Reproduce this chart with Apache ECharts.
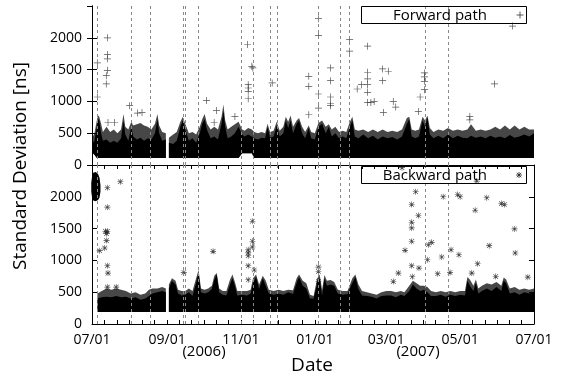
<!DOCTYPE html>
<html><head><meta charset="utf-8">
<script src="https://cdn.jsdelivr.net/npm/echarts@6/dist/echarts.min.js"></script>
<style>html,body{margin:0;padding:0;background:#fff}#c{width:562px;height:376px}</style>
</head><body><div id="c"></div>
<script>
// x values are days since 2006-07-01
const monthLabels = ['07/01','09/01','11/01','01/01','03/01','05/01','07/01'];
const monthDays = [0, 62, 123, 184, 243, 304, 365];
const yearLabels = ['(2006)', '(2007)'];
const eventDays = [4.4, 32.2, 48.5, 75.3, 76.6, 87.4, 122.9, 133.3, 146.9, 153.2, 187.1, 205.3, 212.7, 275.5, 294.6];

// Forward path: dense band (lower edge, dense core top, sparse fringe top)
const fwdDay  = [0,2,4,5,6,7.5,9,12,15,18,21,24,26,27.5,30,32.5,34,37,40,43,46,49,52,54,55.5,58,61,62,63.5,67,70,73,75,77,80,83,86,89,91,93,95,98,101,104,107,108.5,110,112,115,118,121,124,126,129,132,134,137,140,143,145,147,150,152.5,155,158,160,162,164,166,169,171,173.5,176,179,181,184,187,190,193,195.5,198,201,204,207,210,213,215,217,220,224,228,232,236,240,244,248,252,256,260,262,264,267,270,273,275,277,279,282,286,290,294,298,302,306,310,313,317,321,325,329,333,337,341,345,349,353,357,361,365];
const fwdLow  = [200,160,110,110,110,110,110,110,110,110,110,110,110,110,110,110,110,110,110,110,110,110,110,110,110,110,110,null,110,110,110,110,110,110,110,110,110,110,110,110,110,110,110,110,110,110,110,110,110,110,110,185,185,185,185,110,110,110,110,110,110,110,110,110,110,110,110,110,110,110,110,110,110,110,110,110,110,110,110,110,110,110,110,110,110,110,110,110,110,110,110,110,110,110,110,110,110,110,110,110,110,110,110,110,110,110,110,110,110,110,110,110,110,110,110,110,110,110,110,110,110,110,110,110,110,110,110,110,110,110,110];
const fwdCore = [330,380,600,720,700,500,380,400,350,380,350,420,700,480,380,600,450,400,430,380,420,400,500,720,500,380,400,null,350,330,380,600,700,560,380,420,350,500,650,720,550,420,450,400,650,850,600,420,450,500,600,480,450,480,450,420,400,430,420,600,430,450,620,450,500,700,580,700,500,650,700,500,420,580,420,400,600,650,500,600,450,500,420,450,420,600,700,450,420,480,420,460,400,450,420,440,400,450,650,720,450,420,450,700,600,750,480,420,460,420,480,420,460,430,420,460,430,450,420,460,430,450,420,470,430,450,480,450,500];
const fwdTop  = [420,500,700,780,760,650,520,600,520,560,500,560,800,600,560,680,620,640,660,620,600,560,650,800,620,520,500,null,430,480,520,680,760,650,500,520,480,600,720,800,650,560,600,560,760,950,700,560,600,640,680,560,540,580,560,520,500,520,500,650,520,540,680,540,600,760,680,780,600,700,740,600,520,620,520,500,660,700,600,640,560,600,520,540,520,680,760,560,540,560,520,560,520,560,520,540,520,560,740,760,560,540,560,760,700,780,580,520,560,540,580,540,560,540,560,640,540,560,540,560,600,560,620,560,620,560,600,560,560];

// Backward path: dense band
const bwdDay  = [4.5,8,12,16,20,24,28,32,36,40,44,47,50,54,58,61,62,63.5,66,69,71,74,77,80,83,86,88,90,93,96,99,101,103,105,108,111,114,116,118,120,124,128,131,133,135.5,138,141,143.5,146,150,154,158,162,166,169,171,174,177,180,183,186,188,190,192,194,197,200,203,207,211,215,217.5,220,223,227,231,235,239,243,247,251,255,258,262,265,268,271,274,277,280,284,288,292,296,300,304,308,310,312,315,317,319,322,326,330,334,338,340,342,345,349,353,357,361,365];
const bwdLow  = [190,190,190,190,190,190,190,190,190,190,190,190,190,190,190,190,null,190,190,190,190,190,190,190,190,190,190,190,190,190,190,190,190,190,190,190,190,190,190,190,190,190,190,190,190,190,190,190,190,190,190,190,190,190,190,190,190,190,190,190,190,190,190,190,190,190,190,190,190,190,190,190,190,190,190,190,190,190,190,190,190,190,190,190,190,190,190,190,190,190,190,190,190,190,190,190,190,190,190,190,190,190,190,190,190,190,190,190,190,190,190,190,190,190,190];
const bwdCore = [400,420,430,420,440,420,430,400,420,380,400,440,480,500,520,500,null,560,680,620,480,450,460,500,440,650,800,500,480,500,550,700,780,500,460,450,620,720,600,450,460,450,480,650,740,550,720,600,480,460,480,460,500,470,650,740,600,560,400,400,650,720,450,720,600,620,600,480,460,470,650,740,550,450,440,430,400,440,450,450,420,460,440,520,620,560,520,540,500,440,440,460,430,460,440,460,450,680,600,520,650,480,520,560,520,580,520,680,640,480,500,460,500,480,500];
const bwdTop  = [480,520,560,540,560,540,520,480,500,460,480,540,560,560,580,560,null,620,720,680,540,520,520,560,520,720,850,560,540,560,600,760,800,560,520,520,700,780,660,520,520,520,540,720,780,620,760,680,540,520,540,520,540,530,720,780,680,640,460,440,720,780,540,770,680,690,660,540,520,520,720,780,620,520,500,480,460,500,520,520,500,520,500,600,680,640,600,600,580,520,500,520,500,520,500,520,520,740,700,600,700,560,600,640,620,660,600,730,700,560,580,540,560,540,560];
// Backward path: early cluster (July 2006)
const bwdBlobDay  = [-0.6, 0, 1, 3, 5, 6.2, 7];
const bwdBlobLow  = [2080, 2000, 1940, 1930, 1950, 1990, 2080];
const bwdBlobHigh = [2220, 2310, 2380, 2390, 2360, 2300, 2180];

// Isolated outliers
const fwdOutDay = [4.4,4.4,12.7,12.7,12.7,12.7,11.8,11.8,31.1,37.5,41.3,13.2,18.7,94.5,102.8,118,100.9,128.4,132,132.8,129,129,129,129,148.8,179,179,179,187,187,187,187,197,197,197,197,197,212.7,212.7,227.6,227.6,227.6,227.6,227.6,227.6,230.3,233,219,222.6,240,240,240.6,244.7,248.8,250.8,274.5,274.5,274.5,274.5,271,269.5,332.3,347.2,312,312];
const fwdOutVal = [1606,1069,2000,1737,1669,1489,1405,1274,932,816,826,668,668,1016,858,763,668,1895,1552,1527,1263,1211,1158,1042,1290,1394,1237,790,2300,2037,1116,895,1527,1326,1069,963,932,1974,1789,1868,1458,1353,1263,1142,984,984,1000,1195,1263,1511,1326,826,1474,1000,911,1448,1385,1316,1184,1069,842,1274,2184,763,711];
const bwdOutDay = [12.7,23.4,12.7,11,12.7,12,12,10.5,6.3,12.7,13.2,100,75.8,12.7,20,132.5,132.5,132.5,129,129,129,129,129,134,187,187,187,267.3,264,269.5,264,264,264,258.5,264,270,264.5,253,248.8,290,302,304,326,338,340.6,316.4,348.9,277.8,280.5,277,288.8,296.5,303,328,349.5,318.5,285.5,295.7,313.6,333.4,359.9,317.7,256];
const bwdOutVal = [2143,2237,1837,1458,1458,1421,1311,1195,1153,916,800,1142,811,580,580,1616,1300,1211,1168,1120,1074,916,695,850,895,826,668,2080,1879,1705,1600,1511,1300,1158,916,879,742,800,668,2000,2037,2000,1984,1895,1879,1789,1495,1247,1284,1011,1053,1168,1090,1232,1116,947,790,811,800,747,737,2247,2458];

const FONT = '"Open Sans", "Noto Sans", sans-serif';

function splitSegments(days, lo, hi) {
  const segs = []; let cur = [];
  for (let i = 0; i < days.length; i++) {
    if (hi[i] == null || lo[i] == null) { if (cur.length) segs.push(cur); cur = []; }
    else cur.push(i);
  }
  if (cur.length) segs.push(cur);
  return segs;
}
function bandSeries(xi, yi, days, lo, core, top, z, clip) {
  const segs = splitSegments(days, lo, core);
  return {
    type: 'custom', xAxisIndex: xi, yAxisIndex: yi, z: z, silent: true, clip: clip,
    data: segs.map((s, k) => [Math.max(0, days[s[0]]), lo[s[0]], k]),
    encode: { x: 0, y: 1 },
    renderItem: function (params, api) {
      const s = segs[params.dataIndex];
      const lowPts = s.map(i => api.coord([days[i], lo[i]]));
      const corePts = s.map(i => api.coord([days[i], core[i]])).reverse();
      const children = [];
      if (top) {
        const topPts = s.map(i => api.coord([days[i], top[i]])).reverse();
        children.push({ type: 'polygon', shape: { points: lowPts.concat(topPts) }, style: { fill: 'rgba(0,0,0,0.72)' } });
      }
      children.push({ type: 'polygon', shape: { points: lowPts.concat(corePts) }, style: { fill: '#000' } });
      return { type: 'group', children: children };
    }
  };
}

const tickVals = [];
for (let i = 0; i < monthDays.length - 1; i++) {
  for (let k = 0; k < 6; k++) tickVals.push(monthDays[i] + (monthDays[i + 1] - monthDays[i]) * k / 6);
}
tickVals.push(monthDays[monthDays.length - 1]);

const PLUS = 'path://M0,4.5L10,4.5L10,5.5L0,5.5Z M4.5,0L5.5,0L5.5,10L4.5,10Z';
const STAR = 'path://M0,4.5L10,4.5L10,5.5L0,5.5Z M4.5,0L5.5,0L5.5,10L4.5,10Z M1.5,0.8L9.2,8.5L8.5,9.2L0.8,1.5Z M8.5,0.8L9.2,1.5L1.5,9.2L0.8,8.5Z';

const blackLine = { show: true, lineStyle: { color: '#000', width: 1 } };
function yAx(grid, pos, labels) {
  return {
    type: 'value', gridIndex: grid, position: pos, min: 0, max: 2500, interval: 500,
    axisLine: blackLine, splitLine: { show: false },
    axisTick: { show: true, inside: true, length: 5, lineStyle: { color: '#000' } },
    axisLabel: { show: labels, showMaxLabel: false, fontFamily: FONT, fontSize: 14, color: '#000', margin: 10,
      formatter: v => String(v) }
  };
}
const markLines = {
  silent: true, symbol: ['none', 'none'], label: { show: false }, animation: false,
  lineStyle: { color: '#888', type: [3, 3], width: 1 },
  data: eventDays.map(d => ({ xAxis: d }))
};
function legendLines(cx, cy, r, star, color) {
  const segs = [[cx - r, cy, cx + r, cy], [cx, cy - r, cx, cy + r]];
  if (star) { const q = r * 0.75; segs.push([cx - q, cy - q, cx + q, cy + q], [cx - q, cy + q, cx + q, cy - q]); }
  return segs.map(s => ({ type: 'line', z: 11, shape: { x1: s[0], y1: s[1], x2: s[2], y2: s[3] }, style: { stroke: color, lineWidth: 0.8 } }));
}

const option = {
  animation: false,
  backgroundColor: '#fff',
  grid: [
    { left: 92, right: 28, top: 6, height: 159 },
    { left: 92, right: 28, top: 165, height: 159 }
  ],
  xAxis: [
    { type: 'value', gridIndex: 0, position: 'bottom', min: 0, max: 365, splitLine: { show: false },
      axisLine: { show: true, lineStyle: { color: '#888', width: 1, type: [4, 2, 1, 2] } },
      axisTick: { show: false }, axisLabel: { show: false } },
    { type: 'value', gridIndex: 0, position: 'top', min: 0, max: 365, splitLine: { show: false },
      axisLine: blackLine,
      axisTick: { show: true, inside: true, length: 4, customValues: tickVals, lineStyle: { color: '#000' } },
      axisLabel: { show: false } },
    { type: 'value', gridIndex: 1, position: 'bottom', min: 0, max: 365, splitLine: { show: false },
      axisLine: blackLine,
      axisTick: { show: true, inside: true, length: 4, customValues: tickVals, lineStyle: { color: '#000' } },
      axisLabel: { show: true, customValues: monthDays, fontFamily: FONT, fontSize: 14, color: '#000', margin: 9,
        formatter: function (v) {
          let best = 0;
          for (let i = 0; i < monthDays.length; i++) if (Math.abs(monthDays[i] - v) < Math.abs(monthDays[best] - v)) best = i;
          return monthLabels[best];
        } } }
  ],
  yAxis: [ yAx(0, 'left', true), yAx(0, 'right', false), yAx(1, 'left', true), yAx(1, 'right', false) ],
  series: [
    { type: 'scatter', name: 'Forward path', xAxisIndex: 0, yAxisIndex: 0, z: 2, silent: true,
      symbol: PLUS, symbolSize: 7, itemStyle: { color: '#2a2a2a' },
      data: fwdOutDay.map((d, i) => [d, fwdOutVal[i]]), markLine: markLines },
    bandSeries(0, 0, fwdDay, fwdLow, fwdCore, fwdTop, 3, true),
    { type: 'scatter', name: 'Backward path', xAxisIndex: 2, yAxisIndex: 2, z: 2, silent: true,
      symbol: STAR, symbolSize: 6, itemStyle: { color: '#1a1a1a' },
      data: bwdOutDay.map((d, i) => [d, bwdOutVal[i]]), markLine: markLines },
    bandSeries(2, 2, bwdDay, bwdLow, bwdCore, bwdTop, 3, true),
    bandSeries(2, 2, bwdBlobDay, bwdBlobLow, bwdBlobHigh, null, 3, false)
  ],
  graphic: [
    { type: 'text', x: 21, y: 166, rotation: Math.PI / 2,
      style: { text: 'Standard Deviation [ns]', font: '19px ' + FONT, fill: '#000', align: 'center', verticalAlign: 'middle' } },
    { type: 'text', x: 312, y: 366,
      style: { text: 'Date', font: '19px ' + FONT, fill: '#000', align: 'center', verticalAlign: 'middle' } },
    { type: 'text', x: 204, y: 352,
      style: { text: yearLabels[0], font: '15px ' + FONT, fill: '#000', align: 'center', verticalAlign: 'middle' } },
    { type: 'text', x: 418, y: 352,
      style: { text: yearLabels[1], font: '15px ' + FONT, fill: '#000', align: 'center', verticalAlign: 'middle' } },
    { type: 'rect', shape: { x: 361.5, y: 6.5, width: 165, height: 17 }, style: { fill: 'none', stroke: '#000', lineWidth: 1 }, z: 10 },
    { type: 'text', x: 487, y: 15.5, z: 11,
      style: { text: 'Forward path', font: '15px ' + FONT, fill: '#000', align: 'right', verticalAlign: 'middle' } },
    { type: 'rect', shape: { x: 361.5, y: 166.5, width: 165, height: 17 }, style: { fill: 'none', stroke: '#000', lineWidth: 1 }, z: 10 },
    { type: 'text', x: 487, y: 175.5, z: 11,
      style: { text: 'Backward path', font: '15px ' + FONT, fill: '#000', align: 'right', verticalAlign: 'middle' } }
  ].concat(legendLines(520, 15, 3.5, false, '#333'), legendLines(519, 175, 3, true, '#222'))
};
const chart = echarts.init(document.getElementById('c'), null, { renderer: 'canvas' });
chart.setOption(option);
</script>
</body></html>
